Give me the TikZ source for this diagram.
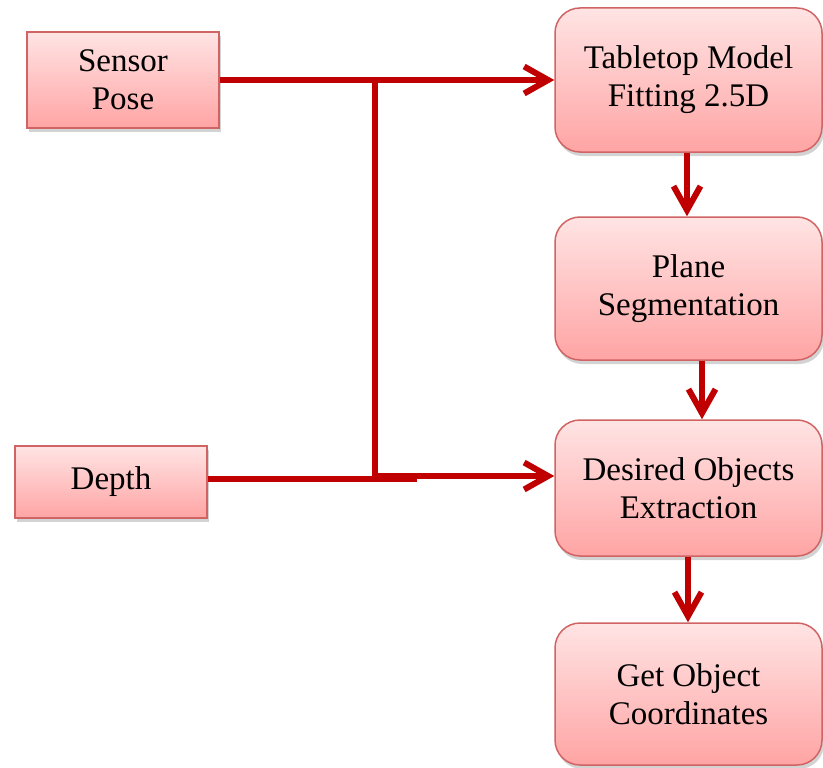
\documentclass[tikz,border=0pt]{standalone}
\usepackage{fontspec}
\setmainfont{Liberation Serif}
\usetikzlibrary{arrows.meta,shadows}
\definecolor{linered}{HTML}{C00000}
\definecolor{boxborder}{HTML}{D06464}
\definecolor{filltop}{HTML}{FFE4E4}
\definecolor{fillbot}{HTML}{FFA4A4}
\tikzset{
  inbox/.style={rectangle, draw=boxborder, line width=1.5pt, top color=filltop, bottom color=fillbot,
    inner sep=0pt, align=center, font=\fontsize{33}{38}\selectfont,
    drop shadow={opacity=0.35, shadow xshift=2pt, shadow yshift=-4pt}},
  procbox/.style={inbox, rounded corners=25pt, minimum width=267pt},
  conn/.style={draw=linered, line width=6pt},
  arr/.style={conn, -{Straight Barb[length=24pt,width=27pt]}}
}
\begin{document}
\begin{tikzpicture}[x=1pt,y=-1pt]
\useasboundingbox (0,0) rectangle (823,768);
\node[inbox, minimum width=192pt, minimum height=96pt] (sensor) at (123,80) {Sensor\\Pose};
\node[inbox, minimum width=192pt, minimum height=72pt] (depth) at (111,482) {Depth};
\node[procbox, minimum height=144pt] (table) at (688.5,80) {Tabletop Model\\Fitting 2.5D};
\node[procbox, minimum height=143pt] (plane) at (688.5,288.5) {Plane\\Segmentation};
\node[procbox, minimum height=136pt] (desired) at (688.5,488) {Desired Objects\\Extraction};
\node[procbox, minimum height=142pt] (get) at (688.5,694) {Get Object\\Coordinates};
\coordinate (j1) at (375,80);
\coordinate (j2) at (375,476);
\coordinate (dend) at (417,479);
\draw[arr] (sensor.east) -- (table.west);
\draw[conn] (j1) -- (j2);
\draw[conn] (depth.east |- dend) -- (dend);
\draw[arr] (j2) -- (j2 -| desired.west);
\draw[arr] (table.south -| 687,0) -- (plane.north -| 687,0);
\draw[arr] (plane.south -| 702,0) -- (desired.north -| 702,0);
\draw[arr] (desired.south -| 688,0) -- (get.north -| 688,0);
\end{tikzpicture}
\end{document}
